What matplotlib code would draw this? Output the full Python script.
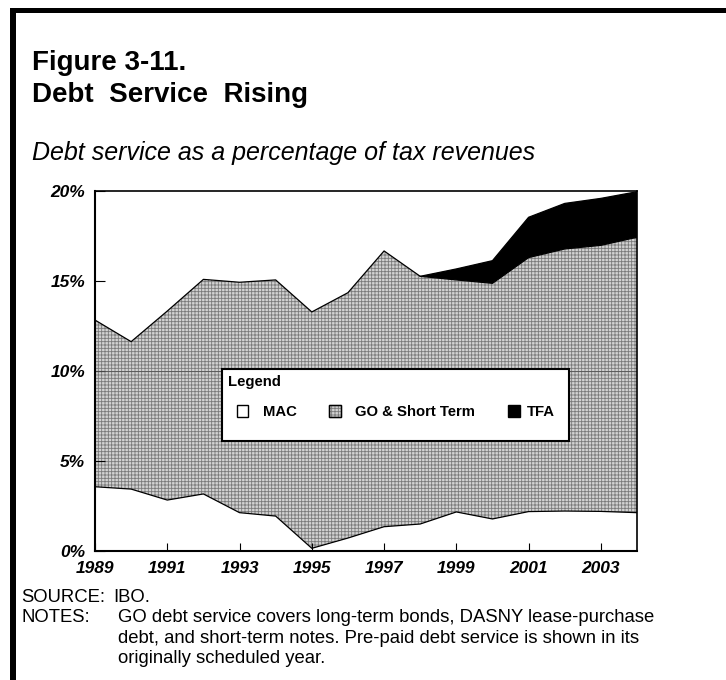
import matplotlib
matplotlib.use("Agg")
import matplotlib.pyplot as plt
import numpy as np
from matplotlib.patches import Rectangle

plt.rcParams["font.family"] = ["Liberation Sans", "DejaVu Sans"]
plt.rcParams["hatch.linewidth"] = 0.6

# Debt service as % of tax revenues, by fiscal year
years = np.arange(1989, 2005)
mac = np.array([3.57, 3.44, 2.83, 3.17, 2.13, 1.94, 0.15, 0.72,
                1.35, 1.50, 2.17, 1.78, 2.19, 2.22, 2.20, 2.13])
go_short = np.array([9.26, 8.19, 10.50, 11.92, 12.80, 13.12, 13.13, 13.63,
                     15.32, 13.76, 12.89, 13.09, 14.11, 14.56, 14.78, 15.30])
tfa = np.array([0, 0, 0, 0, 0, 0, 0, 0,
                0, 0, 0.61, 1.26, 2.24, 2.53, 2.61, 2.53])

series_names = ["MAC", "GO & Short Term", "TFA"]
year_ticks = list(range(1989, 2004, 2))
pct_ticks = [0, 5, 10, 15, 20]

W, H = 726, 680
GO_FACE, GO_HATCH = "#d2d2d2", "#7a7a7a"


def fx(x):
    return x / W


def fy(y):
    return 1 - y / H


fig = plt.figure(figsize=(W / 100, H / 100), dpi=100)
ax = fig.add_axes([fx(95), fy(551), fx(637) - fx(95), fy(191) - fy(551)])

go_top = mac + go_short
total = go_top + tfa

ax.fill_between(years, 0, mac, facecolor="white", linewidth=0)
ax.fill_between(years, mac, go_top, facecolor=GO_FACE, edgecolor=GO_HATCH,
                hatch="+++++", linewidth=0)
has_tfa = years >= 1998
ax.fill_between(years[has_tfa], go_top[has_tfa], total[has_tfa],
                facecolor="black", linewidth=0)

ax.axhline(10, color="#555555", lw=0.6, zorder=2)

ax.plot(years, mac, color="black", lw=0.9, zorder=3)
ax.plot(years, go_top, color="black", lw=0.9, zorder=3)
ax.plot(years[has_tfa], total[has_tfa], color="black", lw=0.9, zorder=3)

ax.set_xlim(1989, 2004)
ax.set_ylim(0, 20)
ax.set_xticks(year_ticks)
ax.set_xticklabels([str(y) for y in year_ticks])
ax.set_yticks(pct_ticks)
ax.set_yticklabels([f"{p}%" for p in pct_ticks])
ax.tick_params(axis="x", direction="in", length=6, width=0.8, pad=7)
ax.tick_params(axis="y", direction="in", length=7.5, width=0.8, pad=7)
for lab in ax.get_xticklabels() + ax.get_yticklabels():
    lab.set_fontsize(12.5)
    lab.set_fontweight("bold")
    lab.set_fontstyle("italic")
for side in ["left", "bottom"]:
    ax.spines[side].set_linewidth(1.5)
for side in ["top", "right"]:
    ax.spines[side].set_linewidth(1.2)

# legend box, laid out by hand
fig.patches.append(Rectangle((fx(221.7), fy(440.7)), fx(569) - fx(221.7),
                             fy(369.3) - fy(440.7), transform=fig.transFigure,
                             facecolor="white", edgecolor="black", lw=1.5,
                             zorder=5))
fig.text(fx(228), fy(386), "Legend", fontsize=10.7, fontweight="bold",
         va="baseline", zorder=6)
swatches = [dict(facecolor="white", edgecolor="black"),
            dict(facecolor=GO_FACE, edgecolor=GO_HATCH, hatch="+++++"),
            dict(facecolor="black", edgecolor="black")]
patch_x = [236.7, 329.3, 508.3]
text_x = [263.3, 355, 527]
for name, sw, px, tx in zip(series_names, swatches, patch_x, text_x):
    fig.patches.append(Rectangle((fx(px), fy(416.7)), fx(11.2), fy(405) - fy(416.7),
                                 transform=fig.transFigure, lw=1, zorder=6, **sw))
    if name == "GO & Short Term":
        fig.patches.append(Rectangle((fx(px), fy(416.7)), fx(11.2), fy(405) - fy(416.7),
                                     transform=fig.transFigure, fill=False,
                                     edgecolor="black", lw=1, zorder=7))
    fig.text(fx(tx), fy(415.7), name, fontsize=10.7, fontweight="bold",
             va="baseline", zorder=6)

# titles
fig.text(fx(31.7), fy(70), "Figure 3-11.", fontsize=20, fontweight="bold",
         va="baseline")
fig.text(fx(31.7), fy(101.7), "Debt  Service  Rising", fontsize=20,
         fontweight="bold", va="baseline")
fig.text(fx(31.7), fy(160), "Debt service as a percentage of tax revenues",
         fontsize=18, fontstyle="italic", va="baseline")

# source and notes
NOTE_SIZE = 13.3
fig.text(fx(21.7), fy(601.7), "SOURCE:", fontsize=NOTE_SIZE, va="baseline")
fig.text(fx(113), fy(601.7), "IBO.", fontsize=NOTE_SIZE, va="baseline")
fig.text(fx(21.7), fy(622.3), "NOTES:", fontsize=NOTE_SIZE, va="baseline")
notes = ["GO debt service covers long-term bonds, DASNY lease-purchase",
         "debt, and short-term notes. Pre-paid debt service is shown in its",
         "originally scheduled year."]
for i, line in enumerate(notes):
    fig.text(fx(118), fy(622.3 + 20.5 * i), line, fontsize=NOTE_SIZE,
             va="baseline")

# page frame: heavy rule on the left and top
fig.patches.append(Rectangle((fx(10), 0), fx(6), fy(8), transform=fig.transFigure,
                             facecolor="black", edgecolor="none"))
fig.patches.append(Rectangle((fx(10), fy(13)), 1 - fx(10), fy(8) - fy(13),
                             transform=fig.transFigure, facecolor="black",
                             edgecolor="none"))

fig.savefig("out.png", dpi=100)
